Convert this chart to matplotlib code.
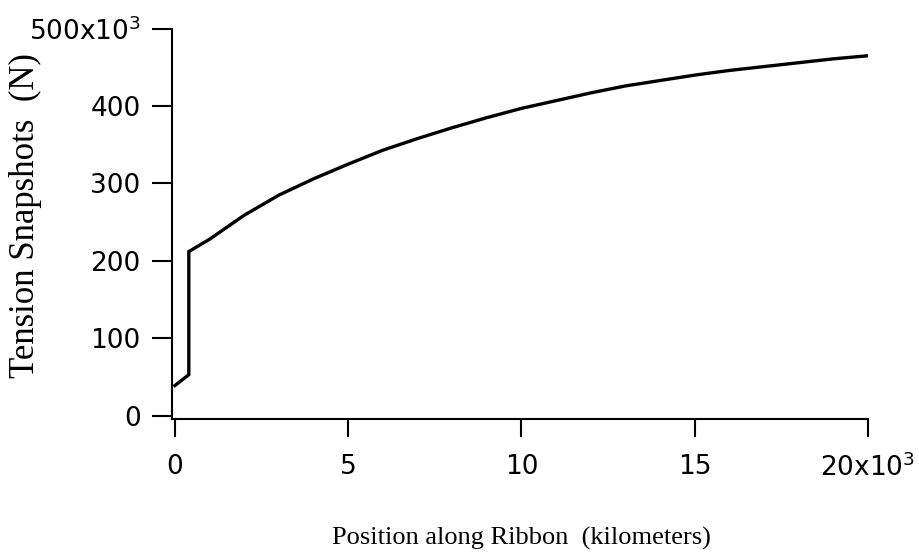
import matplotlib
matplotlib.use("Agg")
import matplotlib.pyplot as plt

# Tension along the ribbon, sampled position (m) vs tension (N)
position = [0, 400, 400, 1000, 2000, 3000, 4000, 5000, 6000, 7000, 8000,
            9000, 10000, 11000, 12000, 13000, 14000, 15000, 16000, 17000,
            18000, 19000, 20000]
tension = [39e3, 53e3, 212e3, 228e3, 259e3, 285e3, 306e3, 325e3, 343e3,
           358e3, 372e3, 385e3, 397e3, 407e3, 417e3, 426e3, 433e3, 440e3,
           446e3, 451e3, 456e3, 461e3, 465e3]

x_ticks = [0, 5000, 10000, 15000, 20000]
x_labels = ["0", "5", "10", "15", "20x10$^{3}$"]
y_ticks = [0, 100e3, 200e3, 300e3, 400e3, 500e3]
y_labels = ["0", "100", "200", "300", "400", "500x10$^{3}$"]

plt.rcParams["mathtext.fontset"] = "dejavusans"

fig = plt.figure(figsize=(9.19, 5.52), dpi=100)
ax = fig.add_axes([0.1868, 0.2409, 0.7577, 0.7072])

ax.plot(position, tension, color="black", lw=2.4, solid_joinstyle="miter")

# small gap between the axes and the data origin, Igor-style
ax.set_xlim(-95, 20000)
ax.set_ylim(-4300, 500e3)
ax.spines["top"].set_visible(False)
ax.spines["right"].set_visible(False)
for s in ("left", "bottom"):
    ax.spines[s].set_linewidth(1.5)
ax.spines["bottom"].set_bounds(-95, 20000)
ax.spines["left"].set_bounds(-4300, 500e3)

ax.set_xticks(x_ticks)
ax.set_xticklabels(x_labels)
ax.set_yticks(y_ticks)
ax.set_yticklabels(y_labels)
ax.tick_params(axis="y", direction="out", length=14.4, width=1.5,
               labelsize=19, pad=8)
ax.tick_params(axis="x", direction="out", length=13, width=1.5,
               labelsize=19, pad=12)

fig.text(0.567, 0.0135, "Position along Ribbon  (kilometers)",
         family="Liberation Serif", fontsize=19, ha="center", va="baseline")
fig.text(0.028, 0.6087, "Tension Snapshots  (N)", family="Liberation Serif",
         fontsize=25, ha="center", va="center", rotation=90)

fig.savefig("out.png", dpi=100)
